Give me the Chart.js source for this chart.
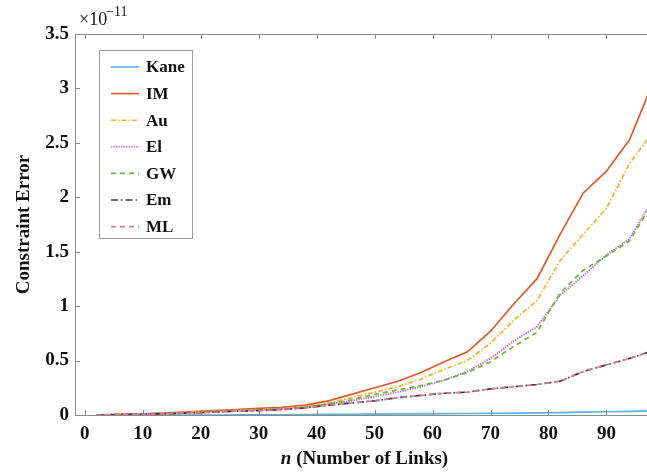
<!DOCTYPE html>
<html>
<head>
<meta charset="utf-8">
<script src="https://cdn.jsdelivr.net/npm/chart.js@4.4.1/dist/chart.umd.min.js"></script>
<style>
  html, body { margin: 0; padding: 0; background: #fff; }
  #wrap { width: 647px; height: 474px; position: relative; }
</style>
</head>
<body>
<div id="wrap"><canvas id="constraint_error"></canvas></div>
<script>
// n values (number of links)
const nLinks = [2, 6, 10, 14, 18, 22, 26, 30, 34, 38, 42, 46, 50, 54, 58, 62, 66, 70, 74, 78, 82, 86, 90, 94, 98];

// constraint error, in units of 1e-11
const kane = [0, 0, 0, 0, 0, 0, 0.001, 0.001, 0.002, 0.003, 0.005, 0.007, 0.008, 0.01, 0.011, 0.012, 0.014, 0.016, 0.018, 0.02, 0.022, 0.026, 0.03, 0.034, 0.04];
const im   = [0, 0.005, 0.01, 0.02, 0.03, 0.04, 0.05, 0.06, 0.07, 0.09, 0.13, 0.19, 0.25, 0.31, 0.39, 0.49, 0.58, 0.77, 1.02, 1.25, 1.66, 2.04, 2.24, 2.53, 3.05];
const au   = [0, 0.005, 0.01, 0.015, 0.025, 0.035, 0.045, 0.05, 0.06, 0.08, 0.11, 0.16, 0.21, 0.26, 0.33, 0.42, 0.5, 0.66, 0.87, 1.05, 1.42, 1.66, 1.9, 2.31, 2.6];
const el   = [0, 0.004, 0.008, 0.013, 0.02, 0.03, 0.04, 0.045, 0.055, 0.07, 0.1, 0.13, 0.17, 0.21, 0.26, 0.32, 0.4, 0.52, 0.68, 0.81, 1.1, 1.28, 1.47, 1.62, 1.98];
const gw   = [0, 0.004, 0.008, 0.013, 0.02, 0.03, 0.04, 0.045, 0.055, 0.07, 0.1, 0.14, 0.19, 0.23, 0.27, 0.32, 0.39, 0.49, 0.63, 0.76, 1.12, 1.33, 1.46, 1.6, 1.95];
const em   = [0, 0.003, 0.007, 0.012, 0.018, 0.025, 0.035, 0.04, 0.05, 0.065, 0.09, 0.11, 0.13, 0.16, 0.18, 0.2, 0.21, 0.24, 0.26, 0.28, 0.31, 0.4, 0.46, 0.52, 0.59];
const ml   = [0, 0.003, 0.007, 0.012, 0.018, 0.025, 0.035, 0.04, 0.05, 0.065, 0.09, 0.11, 0.13, 0.16, 0.18, 0.2, 0.21, 0.24, 0.26, 0.28, 0.31, 0.4, 0.46, 0.52, 0.59];

const xTicks = [0, 10, 20, 30, 40, 50, 60, 70, 80, 90];
const yTicks = [0, 0.5, 1, 1.5, 2, 2.5, 3, 3.5];

const seriesNames = ['Kane', 'IM', 'Au', 'El', 'GW', 'Em', 'ML'];
const seriesData = [kane, im, au, el, gw, em, ml];
const seriesColors = ['#5fb0e2', '#e0582a', '#f0b22a', '#b57ccc', '#6fb23a', '#3a3a3a', '#d8789a'];
const seriesDash = [[], [], [5, 2, 1.5, 2], [1.5, 1], [5, 4], [7, 3, 1.5, 3], [5, 4]];

const serif = '"Liberation Serif", "DejaVu Serif", serif';

// inward tick marks, box top line, exponent label, x title, legend
const decorations = {
  id: 'decorations',
  afterDraw(chart) {
    const ctx = chart.ctx;
    const a = chart.chartArea;
    const xs = chart.scales.x, ys = chart.scales.y;
    ctx.save();
    ctx.strokeStyle = '#8a8a8a';
    ctx.lineWidth = 1;
    ctx.beginPath();
    ctx.moveTo(a.left, a.top + 0.5);
    ctx.lineTo(a.right, a.top + 0.5);
    xTicks.forEach(v => {
      const px = Math.round(xs.getPixelForValue(v)) + 0.5;
      ctx.moveTo(px, a.bottom); ctx.lineTo(px, a.bottom - 5);
      ctx.moveTo(px, a.top); ctx.lineTo(px, a.top + 5);
    });
    yTicks.forEach(v => {
      const py = Math.round(ys.getPixelForValue(v)) + 0.5;
      ctx.moveTo(a.left, py); ctx.lineTo(a.left + 5, py);
    });
    ctx.stroke();

    // exponent
    ctx.fillStyle = '#111';
    ctx.textBaseline = 'alphabetic';
    ctx.textAlign = 'left';
    ctx.font = '18px ' + serif;
    ctx.fillText('\u00d710', 79, 25);
    ctx.font = '14px ' + serif;
    ctx.fillText('\u221211', 106, 16);

    // x title with italic n
    const t1 = 'n', t2 = ' (Number of Links)';
    ctx.font = 'bold italic 19px ' + serif;
    const w1 = ctx.measureText(t1).width;
    ctx.font = 'bold 19px ' + serif;
    const w2 = ctx.measureText(t2).width;
    const cx = 364.5;
    let sx = cx - (w1 + w2) / 2;
    ctx.textBaseline = 'middle';
    ctx.font = 'bold italic 19px ' + serif;
    ctx.fillText(t1, sx, 459);
    ctx.font = 'bold 19px ' + serif;
    ctx.fillText(t2, sx + w1, 459);

    // legend
    ctx.fillStyle = '#fff';
    ctx.fillRect(99, 50, 93, 188);
    ctx.strokeStyle = '#9a9a9a';
    ctx.strokeRect(99.5, 50.5, 93, 188);
    seriesNames.forEach((name, i) => {
      const y = 67 + i * 26.6;
      ctx.strokeStyle = seriesColors[i];
      ctx.lineWidth = 1.6;
      ctx.setLineDash(seriesDash[i]);
      ctx.beginPath();
      ctx.moveTo(111, y); ctx.lineTo(139, y);
      ctx.stroke();
      ctx.setLineDash([]);
      ctx.fillStyle = '#111';
      ctx.font = 'bold 17px ' + serif;
      ctx.textBaseline = 'middle';
      ctx.fillText(name, 146, y + 1);
    });
    ctx.restore();
  }
};

const ctx = document.getElementById('constraint_error').getContext('2d');
const chart = new Chart(ctx, {
  type: 'line',
  data: {
    datasets: seriesNames.map((name, i) => ({
      label: name,
      data: nLinks.map((n, j) => ({ x: n, y: seriesData[i][j] })),
      borderColor: seriesColors[i],
      backgroundColor: seriesColors[i],
      borderDash: seriesDash[i],
      borderWidth: i === 3 ? 1.9 : 1.7,
      pointRadius: 0,
      tension: 0,
      order: 6 - i
    }))
  },
  options: {
    responsive: true,
    maintainAspectRatio: false,
    animation: false,
    layout: { padding: { top: 34, right: 0, bottom: 0, left: 0 } },
    plugins: {
      legend: { display: false },
      tooltip: { enabled: false }
    },
    scales: {
      x: {
        type: 'linear',
        min: -1.7,
        max: 97,
        afterBuildTicks: s => { s.ticks = xTicks.map(v => ({ value: v })); },
        afterFit: s => { s.height = 59; },
        grid: { display: true, drawOnChartArea: false, drawTicks: false, color: '#8a8a8a' },
        border: { color: '#8a8a8a' },
        ticks: { color: '#111', padding: 8, font: { family: serif, size: 19, weight: 'bold' }, maxRotation: 0 }
      },
      y: {
        min: 0,
        max: 3.5,
        afterBuildTicks: s => { s.ticks = yTicks.map(v => ({ value: v })); },
        afterFit: s => { s.width = 75; },
        grid: { display: true, drawOnChartArea: false, drawTicks: false, color: '#8a8a8a' },
        border: { color: '#8a8a8a' },
        ticks: {
          color: '#111',
          padding: 6,
          font: { family: serif, size: 19, weight: 'bold' },
          callback: v => String(v)
        },
        title: {
          display: true,
          text: 'Constraint Error',
          color: '#111',
          font: { family: serif, size: 19, weight: 'bold' },
          padding: { top: 13, bottom: 0 }
        }
      }
    }
  },
  plugins: [decorations]
});
</script>
</body>
</html>
